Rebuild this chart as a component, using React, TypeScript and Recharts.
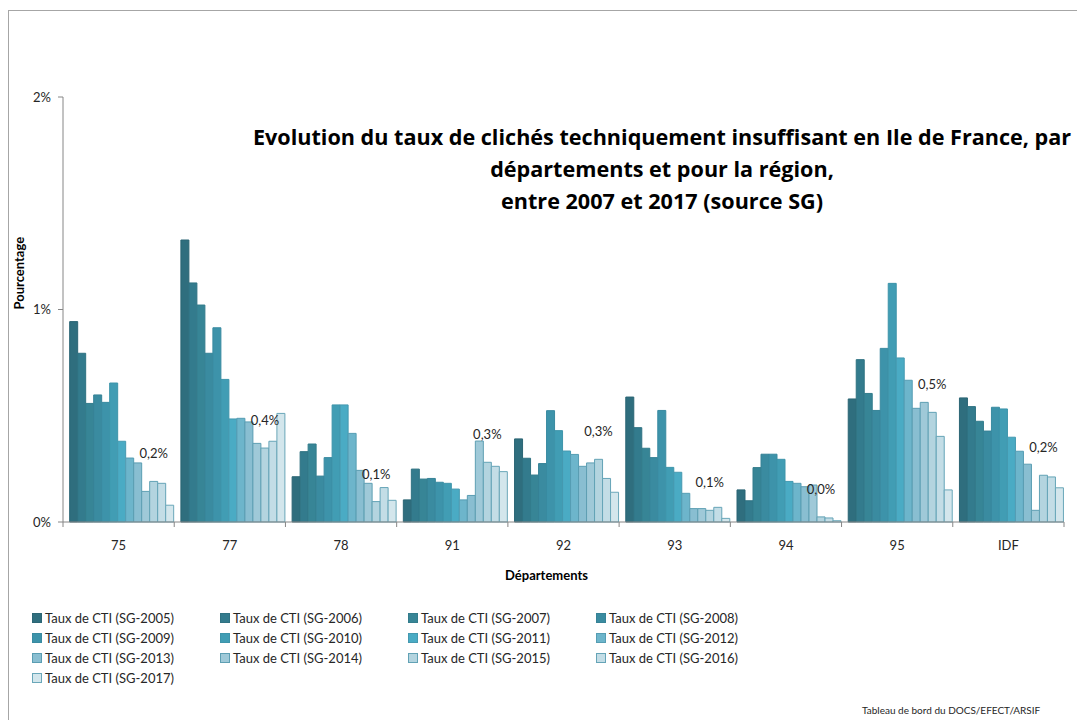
import { BarChart, Bar, XAxis, YAxis, LabelList } from "recharts";

// départements + région
const categories = ["75", "77", "78", "91", "92", "93", "94", "95", "IDF"];

// taux de CTI (%) par année, dans l'ordre des catégories
const sg2005 = [0.943, 1.327, 0.213, 0.104, 0.391, 0.588, 0.151, 0.579, 0.584];
const sg2006 = [0.794, 1.125, 0.331, 0.249, 0.3, 0.444, 0.1, 0.764, 0.543];
const sg2007 = [0.558, 1.021, 0.367, 0.202, 0.221, 0.347, 0.256, 0.605, 0.474];
const sg2008 = [0.598, 0.794, 0.216, 0.205, 0.275, 0.303, 0.319, 0.525, 0.428];
const sg2009 = [0.563, 0.914, 0.303, 0.187, 0.524, 0.525, 0.319, 0.817, 0.54];
const sg2010 = [0.654, 0.671, 0.551, 0.182, 0.43, 0.257, 0.295, 1.123, 0.532];
const sg2011 = [0.38, 0.485, 0.551, 0.155, 0.334, 0.234, 0.191, 0.772, 0.399];
const sg2012 = [0.301, 0.488, 0.417, 0.104, 0.318, 0.135, 0.182, 0.667, 0.333];
const sg2013 = [0.278, 0.471, 0.243, 0.125, 0.262, 0.063, 0.166, 0.535, 0.272];
const sg2014 = [0.144, 0.37, 0.182, 0.381, 0.278, 0.063, 0.174, 0.563, 0.055];
const sg2015 = [0.191, 0.348, 0.096, 0.281, 0.295, 0.055, 0.024, 0.516, 0.22];
const sg2016 = [0.182, 0.38, 0.162, 0.262, 0.205, 0.069, 0.019, 0.403, 0.212];
const sg2017 = [0.079, 0.511, 0.102, 0.237, 0.14, 0.017, 0.006, 0.151, 0.161];

// étiquettes affichées au-dessus de la série 2015
const labels2015 = ["0,2%", "0,4%", "0,1%", "0,3%", "0,3%", "0,1%", "0,0%", "0,5%", "0,2%"];

const yTicks = [0, 1, 2];

const years = ["2005", "2006", "2007", "2008", "2009", "2010", "2011", "2012", "2013", "2014", "2015", "2016", "2017"];
const seriesValues = [sg2005, sg2006, sg2007, sg2008, sg2009, sg2010, sg2011, sg2012, sg2013, sg2014, sg2015, sg2016, sg2017];

const fills = ["#2F6E7E", "#337B8D", "#378596", "#3A8BA0", "#3D93AA", "#419DB4", "#4AABC4", "#6DB5CB", "#89BED1", "#9FC9D8", "#B3D4DF", "#C3DDE6", "#D3E6EC"];
const strokes = ["#2B6574", "#2F7282", "#337C8C", "#368296", "#398AA0", "#3D94AA", "#4599B0", "#559DB3", "#5A9DB2", "#5E9FB3", "#62A2B5", "#65A4B7", "#6AA7B9"];

const FONT = "Lato, 'Noto Sans', sans-serif";
const PLOT_LEFT = 63;
const PLOT_RIGHT = 1064;
const HALF_BAND = (PLOT_RIGHT - PLOT_LEFT) / categories.length / 2;

const chartData = categories.map((cat, i) => {
  const row: Record<string, string | number> = { dep: cat };
  years.forEach((y, k) => {
    row["SG-" + y] = seriesValues[k][i];
  });
  return row;
});

// tick Excel : traits entre les catégories
const XTick = (props: any) => {
  const { x, y, payload, index } = props;
  const axisY = y - 19;
  return (
    <g>
      <line x1={x - HALF_BAND} y1={axisY} x2={x - HALF_BAND} y2={axisY + 5} stroke="#868686" />
      {index === categories.length - 1 && <line x1={x + HALF_BAND} y1={axisY} x2={x + HALF_BAND} y2={axisY + 5} stroke="#868686" />}
      <text x={x} y={y} dy="0.71em" textAnchor="middle" fontSize={13} fill="#262626" fontFamily={FONT}>
        {payload.value}
      </text>
    </g>
  );
};

const LegendBox = () => (
  <div style={{ display: "grid", gridTemplateColumns: "188px 188px 188px 188px", rowGap: 1, fontFamily: FONT, fontSize: 13, color: "#262626" }}>
    {years.map((y, k) => (
      <div key={y} style={{ display: "flex", alignItems: "center", height: 19 }}>
        <span style={{ display: "inline-block", width: 8, height: 8, background: fills[k], border: `1px solid ${strokes[k]}`, marginRight: 3 }} />
        Taux de CTI (SG-{y})
      </div>
    ))}
  </div>
);

export default function App() {
  return (
    <div style={{ position: "absolute", left: 0, top: 0, width: 1077, height: 720, overflow: "hidden", background: "#fff" }}>
      {/* cadre du graphique */}
      <div style={{ position: "absolute", left: 8, top: 10, width: 1200, height: 900, border: "1.5px solid #a6a6a6" }} />

      <BarChart
        width={1077}
        height={720}
        data={chartData}
        margin={{ top: 97, right: 1077 - PLOT_RIGHT, left: 0, bottom: 138 }}
        barGap={0}
        barCategoryGap="6%"
        style={{ position: "absolute", left: 0, top: 0 }}
      >
        <XAxis
          dataKey="dep"
          height={60}
          tick={<XTick />}
          tickLine={false}
          tickSize={6}
          tickMargin={13}
          axisLine={{ stroke: "#868686" }}
          label={{ value: "Départements", position: "insideBottom", offset: 2, dx: -17, fontSize: 13, fontWeight: 700, fill: "#000", fontFamily: FONT }}
        />
        <YAxis
          width={PLOT_LEFT}
          domain={[0, 2]}
          ticks={yTicks}
          tickFormatter={(v) => `${v}%`}
          tick={{ fontSize: 13, fill: "#262626", fontFamily: FONT }}
          tickSize={5}
          tickMargin={7}
          tickLine={{ stroke: "#868686" }}
          axisLine={{ stroke: "#868686" }}
          label={{ value: "Pourcentage", angle: -90, position: "insideLeft", dx: 14, fontSize: 13, fontWeight: 700, fill: "#000", fontFamily: FONT }}
        />
        {years.map((y, k) => (
          <Bar key={y} dataKey={"SG-" + y} name={"Taux de CTI (SG-" + y + ")"} fill={fills[k]} stroke={strokes[k]} strokeWidth={1} isAnimationActive={false}>
            {y === "2015" && (
              <LabelList
                dataKey={"SG-" + y}
                content={(p: any) => (
                  <text x={p.x + p.width / 2} y={p.y - 28} textAnchor="middle" dominantBaseline="central" fontSize={13} fill="#262626" fontFamily={FONT}>
                    {labels2015[p.index]}
                  </text>
                )}
              />
            )}
          </Bar>
        ))}
      </BarChart>

      <div style={{ position: "absolute", left: 32, top: 608, width: 760 }}>
        <LegendBox />
      </div>

      <div
        style={{
          position: "absolute",
          left: 222,
          width: 880,
          top: 121,
          textAlign: "center",
          fontFamily: "'Open Sans', Lato, sans-serif",
          fontWeight: 700,
          fontSize: 21.6,
          lineHeight: "32px",
          color: "#000",
          whiteSpace: "nowrap",
        }}
      >
        <div>Evolution du taux de clichés techniquement insuffisant en Ile de France, par</div>
        <div>départements et pour la région,</div>
        <div>entre 2007 et 2017 (source SG)</div>
      </div>

      <div style={{ position: "absolute", left: 862, top: 704, fontFamily: FONT, fontSize: 10, color: "#262626", whiteSpace: "nowrap" }}>
        Tableau de bord du DOCS/EFECT/ARSIF
      </div>
    </div>
  );
}
